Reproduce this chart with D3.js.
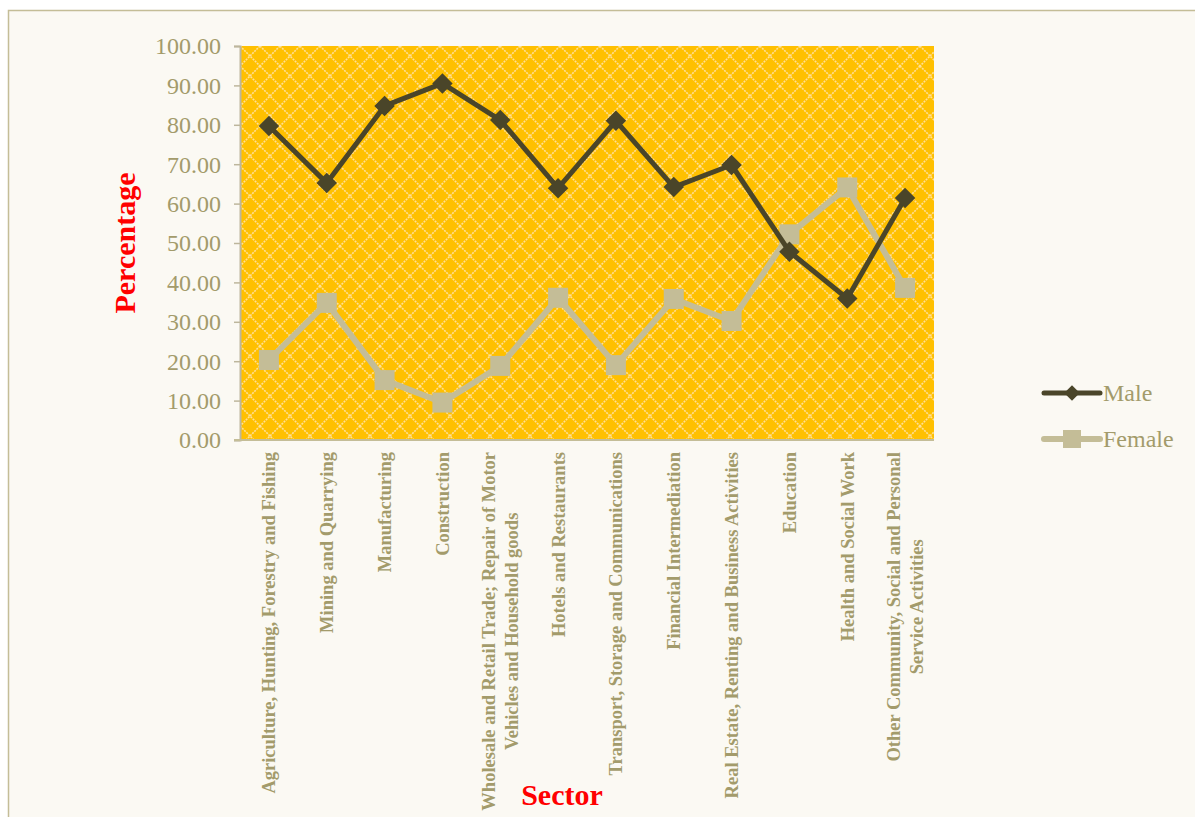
<!DOCTYPE html>
<html>
<head>
<meta charset="utf-8">
<script src="https://cdn.jsdelivr.net/npm/d3@7"></script>
<style>
  body { margin: 0; background: #ffffff; }
  svg { display: block; }
</style>
</head>
<body>
<svg id="chart" width="1195" height="817"></svg>
<script>
const categories = [
  ["Agriculture, Hunting, Forestry and Fishing"],
  ["Mining and Quarrying"],
  ["Manufacturing"],
  ["Construction"],
  ["Wholesale and Retail Trade; Repair of Motor", "Vehicles and Household goods"],
  ["Hotels and Restaurants"],
  ["Transport, Storage and Communications"],
  ["Financial Intermediation"],
  ["Real Estate, Renting and Business Activities"],
  ["Education"],
  ["Health and Social Work"],
  ["Other Community, Social and Personal", "Service Activities"]
];
const maleValues   = [79.7, 65.2, 84.8, 90.5, 81.2, 63.9, 81.0, 64.2, 69.8, 47.8, 35.9, 61.4];
const femaleValues = [20.3, 34.8, 15.2, 9.5, 18.8, 36.1, 19.0, 35.8, 30.2, 52.2, 64.1, 38.6];
const yTicks = [0, 10, 20, 30, 40, 50, 60, 70, 80, 90, 100];
const seriesNames = ["Male", "Female"];

const svg = d3.select("#chart");
const serif = "'Liberation Serif', 'DejaVu Serif', serif";
const tickColor = "#A39B6B";
const axisColor = "#C4BD97";
const maleColor = "#4A4529";
const femaleColor = "#C4BD97";

svg.append("rect").attr("x", 8.5).attr("y", 10.5).attr("width", 1200).attr("height", 820)
  .attr("fill", "#FBF9F3").attr("stroke", axisColor).attr("stroke-width", 1.5);

const plot = { left: 240, right: 934, top: 46, bottom: 440 };
const keys = categories.map((c, i) => i);
const x = d3.scalePoint().domain(keys).range([plot.left, plot.right]).padding(0.5);
const y = d3.scaleLinear().domain([0, 100]).range([plot.bottom, plot.top]);

const defs = svg.append("defs");
const T = 20;
const pat = defs.append("pattern").attr("id", "lattice").attr("patternUnits", "userSpaceOnUse")
  .attr("width", T).attr("height", T).attr("x", plot.left).attr("y", plot.top);
pat.append("rect").attr("width", T).attr("height", T).attr("fill", "#FFC000");
pat.append("path").attr("d", `M0,0L${T},${T}M${T},0L0,${T}`)
  .attr("stroke", "#FFE3A6").attr("stroke-width", 1.6).attr("stroke-opacity", 0.9)
  .attr("stroke-dasharray", "2,1");

svg.append("rect").attr("x", plot.left).attr("y", plot.top)
  .attr("width", plot.right - plot.left).attr("height", plot.bottom - plot.top)
  .attr("fill", "url(#lattice)");

const yAxis = d3.axisLeft(y).tickValues(yTicks).tickSize(6).tickPadding(13)
  .tickFormat(d3.format(".2f"));
const gy = svg.append("g").attr("transform", `translate(${plot.left},0)`).call(yAxis);
gy.select(".domain").attr("stroke", "#BDB69C").attr("stroke-width", 2);
gy.selectAll(".tick line").attr("stroke", "#BDB69C").attr("stroke-width", 1.5);
gy.selectAll(".tick text").attr("fill", tickColor).attr("font-family", serif)
  .attr("font-size", 24).attr("dy", "0.33em");

const xAxis = d3.axisBottom(x).tickSize(0).tickFormat("");
const gx = svg.append("g").attr("transform", `translate(0,${plot.bottom})`).call(xAxis);
gx.select(".domain").attr("stroke", axisColor).attr("stroke-width", 2)
  .attr("d", `M${plot.left - 6},0H${plot.right}`);

const labelTop = 452;
const lineGap = 23;
categories.forEach((lines, i) => {
  const g = svg.append("g").attr("transform", `translate(${x(i)},${labelTop}) rotate(-90)`);
  const texts = lines.map((ln, j) => g.append("text")
    .attr("font-family", serif).attr("font-weight", "bold").attr("font-size", 18.5)
    .attr("fill", tickColor).attr("text-anchor", "middle")
    .attr("y", (j - (lines.length - 1) / 2) * lineGap).attr("dy", "0.35em")
    .text(ln));
  const maxLen = d3.max(texts, t => t.node().getComputedTextLength());
  texts.forEach(t => t.attr("x", -maxLen / 2));
});

svg.append("text").attr("transform", "translate(135,243) rotate(-90)")
  .attr("text-anchor", "middle").attr("font-family", serif).attr("font-weight", "bold")
  .attr("font-size", 30).attr("fill", "#FF0000").text("Percentage");
svg.append("text").attr("x", 562).attr("y", 805)
  .attr("text-anchor", "middle").attr("font-family", serif).attr("font-weight", "bold")
  .attr("font-size", 30).attr("fill", "#FF0000").text("Sector");

const line = d3.line().x((d, i) => x(i)).y(d => y(d));
svg.append("path").datum(femaleValues).attr("d", line).attr("fill", "none")
  .attr("stroke", femaleColor).attr("stroke-width", 6).attr("stroke-linejoin", "round");
svg.selectAll(".fm").data(femaleValues).enter().append("rect")
  .attr("x", (d, i) => x(i) - 10).attr("y", d => y(d) - 10)
  .attr("width", 20).attr("height", 20).attr("fill", femaleColor);

svg.append("path").datum(maleValues).attr("d", line).attr("fill", "none")
  .attr("stroke", maleColor).attr("stroke-width", 5).attr("stroke-linejoin", "round");
const diamond = d3.symbol().type(d3.symbolSquare).size(210);
svg.selectAll(".mm").data(maleValues).enter().append("path")
  .attr("d", diamond())
  .attr("transform", (d, i) => `translate(${x(i)},${y(d)}) rotate(45)`)
  .attr("fill", maleColor);

const legend = [
  { name: seriesNames[0], color: maleColor, width: 5, y: 393, marker: "diamond" },
  { name: seriesNames[1], color: femaleColor, width: 6, y: 439, marker: "square" }
];
legend.forEach(l => {
  svg.append("line").attr("x1", 1044).attr("x2", 1100).attr("y1", l.y).attr("y2", l.y)
    .attr("stroke", l.color).attr("stroke-width", l.width).attr("stroke-linecap", "round");
  if (l.marker === "diamond") {
    svg.append("path").attr("d", d3.symbol().type(d3.symbolSquare).size(120)())
      .attr("transform", `translate(1072,${l.y}) rotate(45)`).attr("fill", l.color);
  } else {
    svg.append("rect").attr("x", 1063).attr("y", l.y - 9).attr("width", 18).attr("height", 18)
      .attr("fill", l.color);
  }
  svg.append("text").attr("x", 1103).attr("y", l.y).attr("dy", "0.33em")
    .attr("font-family", serif).attr("font-size", 24).attr("fill", tickColor).text(l.name);
});
</script>
</body>
</html>
